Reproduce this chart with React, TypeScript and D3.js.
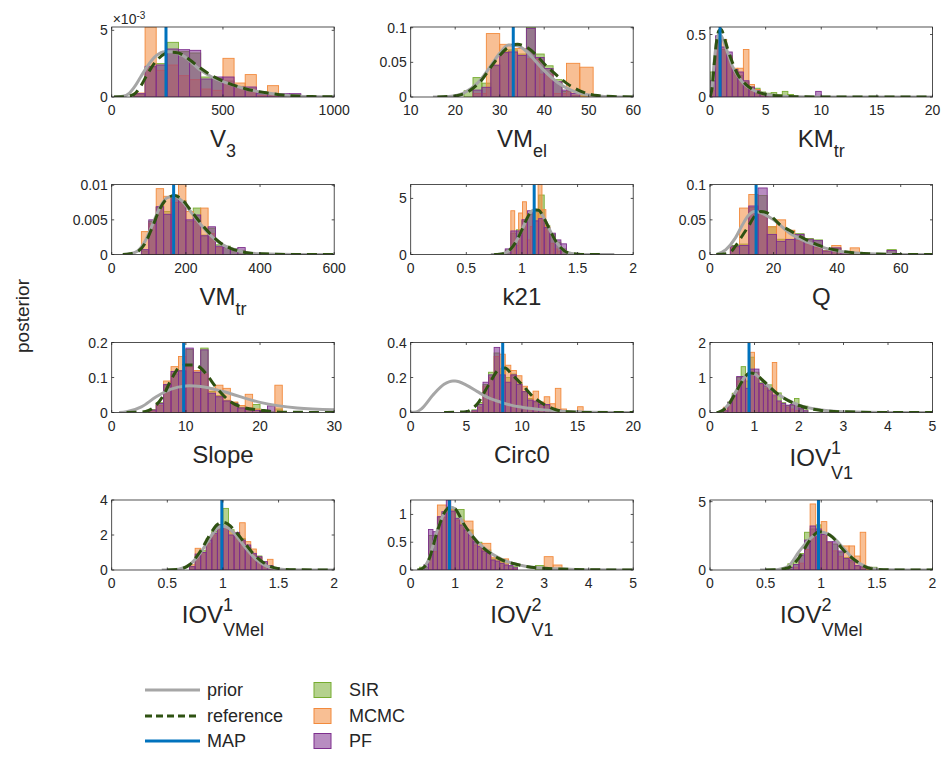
import React from 'react';
import * as d3 from 'd3';

// ---------------- DATA ----------------
const xLabels: [string, string, string][] = [
  ['V', '', '3'], ['VM', '', 'el'], ['KM', '', 'tr'],
  ['VM', '', 'tr'], ['k21', '', ''], ['Q', '', ''],
  ['Slope', '', ''], ['Circ0', '', ''], ['IOV', '1', 'V1'],
  ['IOV', '1', 'VMel'], ['IOV', '2', 'V1'], ['IOV', '2', 'VMel'],
];
const xDomains = [[0, 1000], [10, 60], [0, 20], [0, 600], [0, 2], [0, 70], [0, 30], [0, 20], [0, 5], [0, 2], [0, 5], [0, 2]];
const yMaxes = [0.00525, 0.101, 0.56, 0.0101, 6.24, 0.101, 0.2, 0.4, 2, 4, 1.26, 5.12];
const xTicks = [[0, 500, 1000], [10, 20, 30, 40, 50, 60], [0, 5, 10, 15, 20], [0, 200, 400, 600], [0, 0.5, 1, 1.5, 2], [0, 20, 40, 60], [0, 10, 20, 30], [0, 5, 10, 15, 20], [0, 1, 2, 3, 4, 5], [0, 0.5, 1, 1.5, 2], [0, 1, 2, 3, 4, 5], [0, 0.5, 1, 1.5, 2]];
const yTicks = [[0, 0.005], [0, 0.05, 0.1], [0, 0.5], [0, 0.005, 0.01], [0, 5], [0, 0.05, 0.1], [0, 0.1, 0.2], [0, 0.2, 0.4], [0, 1, 2], [0, 2, 4], [0, 0.5, 1], [0, 5]];
const mapValues = [244, 33.05, 0.9, 167, 1.11, 14.5, 9.7, 8.27, 0.877, 0.99, 0.87, 0.975];

// histogram bins: [first edge, bin width]
const sirBins = [[100, 50], [22, 2], [0, 0.5], [80, 20], [0.85, 0.05], [6.4, 2.9], [5, 1], [5.5, 0.5], [0.3, 0.1], [0.7, 0.05], [0.2, 0.2], [0.7, 0.05]];
const mcmcBins = [[100, 50], [24, 3], [0, 0.5], [80, 20], [0.9, 0.035], [6.4, 2.9], [5, 1], [5.5, 0.5], [0.3, 0.1], [0.7, 0.05], [0.4, 0.2], [0.75, 0.05]];
const pfBins = [[100, 50], [24, 2], [0, 0.5], [80, 20], [0.85, 0.05], [6.4, 2.9], [5, 1], [5.5, 0.5], [0.3, 0.1], [0.7, 0.05], [0.3, 0.1], [0.7, 0.05]];

// SIR densities
const sirV3 = [0.0002, 0.0022, 0.0025, 0.0041, 0.0034, 0.0033, 0.0015, 0.0014, 0.0012, 0.0008, 0.0006, 0.0003, 0.0002, 0.0001, 0.00015];
const sirVMel = [0.009, 0.028, 0.02, 0.045, 0.066, 0.068, 0.062, 0.101, 0.062, 0.045, 0.025, 0.008, 0.002, 0.003];
const sirKMtr = [0.2, 0.47, 0.38, 0.33, 0.2, 0.17, 0.12, 0.08, 0.07, 0.04, 0.03, 0.035, 0.02, 0.045, 0.02];
const sirVMtr = [0.0005, 0.0048, 0.0068, 0.0062, 0.0082, 0.0078, 0.0048, 0.0067, 0.0028, 0.0038, 0.0014, 0.0012, 0.0008, 0.0006];
const sirK21 = [0.4, 1.9, 2.2, 3.0, 3.6, 3.8, 5.3, 2.6, 1.8, 1.1, 0.5];
const sirQ = [0.013, 0.015, 0.068, 0.085, 0.04, 0.022, 0.022, 0.03, 0.023, 0.021, 0.006, 0.009, 0.003, 0.002, 0, 0, 0, 0.007];
const sirSlope = [0.008, 0.028, 0.078, 0.11, 0.12, 0.18, 0.115, 0.184, 0.06, 0.048, 0.035, 0.028, 0.015, 0.012, 0.023, 0.004, 0.002, 0.01];
const sirCirc0 = [0.015, 0.057, 0.16, 0.23, 0.34, 0.25, 0.2, 0.22, 0.17, 0.12, 0.08, 0.06, 0.05, 0.04, 0.02, 0.01];
const sirIOV1V1 = [0.05, 0.3, 0.55, 1.0, 1.31, 0.9, 1.58, 1.15, 0.85, 0.75, 0.79, 0.45, 0.56, 0.28, 0.2, 0.2, 0.4, 0.1, 0.18];
const sirIOV1VMel = [0.2, 0.8, 1.1, 1.8, 2.2, 2.6, 3.52, 2.3, 2.1, 1.8, 1.3, 0.9, 0.8, 0.4, 0.2];
const sirIOV2V1 = [0.05, 0.62, 0.95, 1.12, 1.09, 0.72, 0.5, 0.36, 0.2, 0.15, 0.06, 0, 0, 0.08];
const sirIOV2VMel = [0.45, 0.6, 1.2, 2.76, 3.0, 3.3, 2.7, 2.0, 1.9, 1.3, 0.9, 0.6, 0.3, 0.2, 0.1, 0.2];

// MCMC densities
const mcmcV3 = [0.0003, 0.00525, 0.002, 0.0024, 0.0016, 0.0013, 0.0006, 0.0005, 0.0029, 0.00105, 0.00168, 0.0001, 0.00085];
const mcmcVMel = [0.005, 0.0915, 0.076, 0.07, 0.055, 0.033, 0.005, 0.0486, 0.043];
const mcmcKMtr = [0.05, 0.45, 0.46, 0.32, 0.23, 0.23, 0.38, 0.1, 0.06, 0.02, 0.01];
const mcmcVMtr = [0.0033, 0.0045, 0.0095, 0.0084, 0.0075, 0.0101, 0.0062, 0.0048, 0.0067, 0.003, 0.001];
const mcmcK21 = [3.9, 0.8, 3.7, 4.7, 1.3, 2.5, 4.0, 6.24, 4.0, 2.5, 1.0, 0.5, 0.3];
const mcmcQ = [0.01, 0.067, 0.0866, 0.06, 0.04, 0.05, 0.035, 0.02, 0.015, 0.01, 0.005, 0.013, 0.003, 0.0096];
const mcmcSlope = [0.005, 0.02, 0.09, 0.131, 0.16, 0.13, 0.12, 0.11, 0.07, 0.078, 0.069, 0.03, 0.02, 0.052, 0.01, 0.005, 0, 0.078];
const mcmcCirc0 = [0.005, 0.03, 0.15, 0.2, 0.32, 0.333, 0.27, 0.24, 0.21, 0.15, 0.1, 0.122, 0.06, 0.09, 0.05, 0.138, 0.02, 0.01, 0.005, 0.033];
const mcmcIOV1V1 = [0.15, 0.25, 0.45, 0.9, 0.95, 1.1, 1.72, 1.1, 0.8, 0.7, 0.6, 1.43, 0.3, 0.2, 0.15, 0.1, 0.05];
const mcmcIOV1VMel = [0.3, 1.24, 1.0, 1.5, 2.0, 2.4, 2.5, 2.2, 2.0, 2.7, 1.62, 1.2, 0.7, 0.3, 0.61];
const mcmcIOV2V1 = [0.33, 1.17, 1.1, 0.9, 0.88, 0.45, 0.48, 0.23, 0.2, 0.02, 0, 0, 0, 0.24, 0.09];
const mcmcIOV2VMel = [0.2, 0.5, 1.5, 4.83, 2.5, 3.54, 2.0, 1.4, 1.0, 1.76, 1.76, 1.02, 2.76, 0.2];

// PF densities
const pfV3 = [0.00025, 0.0023, 0.0024, 0.0036, 0.00355, 0.0035, 0.00135, 0.0015, 0.0015, 0.00075, 0.00075, 0.00025, 0.0002, 0.00025, 0.00025];
const pfVMel = [0.01, 0.014, 0.046, 0.064, 0.065, 0.06, 0.099, 0.057, 0.041, 0.022, 0.01, 0.005];
const pfKMtr = [0.13, 0.49, 0.4, 0.36, 0.22, 0.2, 0.13, 0.08, 0.05, 0.03, 0.02, 0.015, 0.01, 0.01, 0.005, 0, 0, 0, 0, 0.045];
const pfVMtr = [0.0007, 0.005, 0.0069, 0.0058, 0.0083, 0.0076, 0.005, 0.0057, 0.0027, 0.004, 0.0012, 0.001, 0.0008, 0.001];
const pfK21 = [0.5, 2.1, 2.1, 3.1, 3.9, 3.0, 3.2, 2.4, 1.9, 1.3, 0.95];
const pfQ = [0.012, 0.013, 0.07, 0.096, 0.029, 0.019, 0.0216, 0.029, 0.022, 0.02, 0.005, 0.0096, 0.002, 0, 0, 0, 0, 0.0058];
const pfSlope = [0.007, 0.026, 0.08, 0.117, 0.119, 0.184, 0.115, 0.179, 0.055, 0.045, 0.033, 0.026, 0.013, 0.01, 0.006, 0.003, 0.019];
const pfCirc0 = [0.01, 0.046, 0.173, 0.215, 0.372, 0.215, 0.173, 0.215, 0.161, 0.119, 0.071, 0.065, 0.046, 0.046, 0.023, 0.015];
const pfIOV1V1 = [0.05, 0.29, 0.5, 1.03, 1.03, 0.69, 1.24, 1.24, 0.83, 0.79, 0.64, 0.5, 0.33, 0.26, 0.21, 0.23, 0.23, 0.11, 0.05];
const pfIOV1VMel = [0.19, 0.91, 1.0, 1.71, 2.1, 2.57, 2.48, 2.0, 2.15, 1.71, 1.43, 0.95, 0.76, 0.48, 0.25];
const pfIOV2V1 = [0.1, 0.73, 0.69, 0.96, 1.05, 1.26, 1.06, 0.93, 0.81, 0.72, 0.63, 0.51, 0.42, 0.34, 0.3, 0.18, 0.16, 0.12, 0.09, 0.08, 0.04, 0, 0, 0, 0, 0, 0, 0, 0.03];
const pfIOV2VMel = [0.2, 0.4, 1.1, 2.19, 3.22, 3.0, 2.6, 2.07, 2.07, 1.39, 0.85, 0.73, 0.32, 0.24];

// prior curves (x, density)
const priorX = [
  [10, 50, 80, 100, 130, 160, 200, 240, 270, 320, 400, 450, 500, 600, 700, 800, 900, 1000],
  [15, 18, 20, 22, 25, 28, 30, 32, 34, 36, 38, 40, 43, 46, 50, 55, 60],
  [0, 0.2, 0.4, 0.6, 0.8, 1.0, 1.3, 1.6, 2, 2.5, 3, 3.5, 4, 5, 6, 7, 8, 10, 20],
  [30, 50, 70, 90, 110, 130, 150, 170, 190, 210, 230, 260, 290, 320, 360, 400, 500, 600],
  [0.72, 0.8, 0.85, 0.9, 0.95, 1.0, 1.05, 1.1, 1.15, 1.2, 1.25, 1.3, 1.35, 1.4, 1.5, 1.6, 1.83],
  [2, 5, 8, 10, 12, 14, 16, 20, 25, 30, 35, 40, 50, 60, 70],
  [1, 2, 4, 6, 8, 10, 10.5, 12, 15, 20, 25, 30],
  [0, 0.5, 1, 2, 3, 3.8, 4, 5, 6, 7, 8, 9, 10, 12, 15, 20],
  [0.15, 0.2, 0.4, 0.6, 0.8, 0.9, 1.0, 1.2, 1.5, 2, 2.5, 3, 4, 5],
  [0.45, 0.6, 0.7, 0.8, 0.9, 0.95, 1.0, 1.05, 1.1, 1.2, 1.3, 1.4, 1.5, 1.6, 2.0],
  [0.15, 0.2, 0.4, 0.6, 0.75, 0.9, 1.0, 1.2, 1.5, 2, 2.5, 3, 4, 5],
  [0.45, 0.6, 0.7, 0.8, 0.9, 1.0, 1.1, 1.2, 1.3, 1.4, 1.5, 1.6, 2.0],
];
const priorY = [
  [0, 0.00005, 0.0003, 0.0007, 0.0015, 0.0023, 0.0031, 0.0034, 0.0034, 0.0031, 0.002, 0.0015, 0.00115, 0.00062, 0.0003, 0.0001, 0.00003, 0.00001],
  [0, 0.0005, 0.002, 0.006, 0.02, 0.045, 0.063, 0.075, 0.074, 0.066, 0.052, 0.038, 0.021, 0.01, 0.003, 0.0005, 0],
  [0, 0.1, 0.3, 0.45, 0.5, 0.49, 0.43, 0.35, 0.25, 0.17, 0.11, 0.075, 0.05, 0.022, 0.01, 0.004, 0.002, 0, 0],
  [0, 0.0001, 0.0005, 0.0019, 0.0043, 0.0068, 0.0082, 0.0084, 0.0077, 0.0064, 0.005, 0.0031, 0.0017, 0.0009, 0.0003, 0.0001, 0, 0],
  [0, 0.03, 0.15, 0.5, 1.2, 2.2, 3.3, 3.95, 3.9, 3.2, 2.2, 1.25, 0.6, 0.22, 0.03, 0, 0],
  [0, 0.007, 0.024, 0.041, 0.056, 0.062, 0.06, 0.05, 0.031, 0.019, 0.011, 0.005, 0.001, 0, 0],
  [0, 0.002, 0.016, 0.045, 0.067, 0.076, 0.0766, 0.074, 0.06, 0.029, 0.013, 0.008],
  [0, 0.003, 0.023, 0.1, 0.161, 0.18, 0.18, 0.157, 0.119, 0.084, 0.061, 0.042, 0.03, 0.015, 0.005, 0],
  [0, 0.01, 0.21, 0.64, 1.04, 1.12, 1.1, 0.88, 0.55, 0.21, 0.07, 0.02, 0, 0],
  [0, 0.05, 0.3, 1.0, 2.0, 2.4, 2.5, 2.4, 2.1, 1.3, 0.6, 0.2, 0.06, 0.01, 0],
  [0, 0.005, 0.18, 0.72, 1.02, 1.13, 1.1, 0.81, 0.51, 0.21, 0.08, 0.03, 0.005, 0],
  [0, 0.02, 0.25, 1.34, 2.3, 2.76, 2.44, 1.59, 0.73, 0.24, 0.06, 0.01, 0],
];

// reference posterior curves (x, density)
const refX = [
  [10, 60, 100, 130, 160, 200, 240, 270, 300, 350, 400, 450, 500, 600, 700, 800, 900, 1000],
  [16, 20, 23, 26, 28, 30, 32, 34, 36, 38, 40, 42, 45, 48, 52, 56, 60],
  [0, 0.2, 0.4, 0.6, 0.8, 1.0, 1.3, 1.6, 2, 2.5, 3, 3.5, 4, 5, 6, 7, 8, 10, 20],
  [30, 50, 70, 90, 110, 130, 150, 170, 190, 210, 230, 260, 290, 320, 360, 400, 500, 600],
  [0.75, 0.8, 0.85, 0.9, 0.95, 1.0, 1.05, 1.1, 1.15, 1.2, 1.25, 1.3, 1.35, 1.4, 1.5, 1.6, 1.7],
  [2, 6, 8, 10, 12, 14, 16, 18, 22, 25, 30, 35, 40, 45, 50, 60, 70],
  [2, 4, 5, 6, 7, 8, 9, 10, 11, 12, 13, 14, 15, 16, 18, 20, 22, 25, 30],
  [3, 5, 5.5, 6, 7, 8, 8.5, 9, 10, 11, 12, 13, 14, 16, 20],
  [0.15, 0.2, 0.4, 0.6, 0.8, 0.9, 1.0, 1.2, 1.5, 2, 2.5, 3, 4, 5],
  [0.5, 0.6, 0.7, 0.8, 0.9, 0.95, 1.0, 1.05, 1.1, 1.2, 1.3, 1.4, 1.5, 1.6, 2.0],
  [0.15, 0.2, 0.4, 0.6, 0.75, 0.9, 1.0, 1.2, 1.5, 2, 2.5, 3, 4, 5],
  [0.5, 0.6, 0.7, 0.8, 0.9, 0.98, 1.1, 1.2, 1.3, 1.45, 1.6, 2.0],
];
const refY = [
  [0, 0.00002, 0.0002, 0.0008, 0.0017, 0.0027, 0.00325, 0.00335, 0.0033, 0.0028, 0.00215, 0.0016, 0.0012, 0.00062, 0.0003, 0.0001, 0.00003, 0.00001],
  [0, 0.0015, 0.008, 0.025, 0.043, 0.06, 0.072, 0.076, 0.072, 0.062, 0.048, 0.036, 0.02, 0.009, 0.002, 0.0005, 0],
  [0, 0.08, 0.28, 0.45, 0.53, 0.54, 0.47, 0.38, 0.28, 0.18, 0.12, 0.08, 0.05, 0.022, 0.01, 0.004, 0.002, 0, 0],
  [0, 0.0001, 0.0004, 0.0016, 0.004, 0.0066, 0.0081, 0.0085, 0.0079, 0.0066, 0.0052, 0.0033, 0.0018, 0.0009, 0.0003, 0.0001, 0, 0],
  [0, 0.03, 0.15, 0.5, 1.2, 2.2, 3.3, 4.0, 3.95, 3.2, 2.2, 1.25, 0.6, 0.22, 0.03, 0, 0],
  [0, 0.002, 0.012, 0.026, 0.04, 0.055, 0.062, 0.06, 0.043, 0.035, 0.022, 0.012, 0.006, 0.0025, 0.001, 0, 0],
  [0, 0.001, 0.006, 0.021, 0.05, 0.093, 0.127, 0.136, 0.136, 0.127, 0.103, 0.074, 0.05, 0.031, 0.013, 0.007, 0.002, 0.0005, 0],
  [0, 0.004, 0.02, 0.05, 0.157, 0.249, 0.255, 0.224, 0.16, 0.09, 0.046, 0.017, 0.005, 0, 0],
  [0, 0.01, 0.19, 0.62, 1.04, 1.13, 1.11, 0.9, 0.55, 0.2, 0.06, 0.02, 0, 0],
  [0, 0.04, 0.3, 1.1, 2.2, 2.6, 2.72, 2.6, 2.3, 1.5, 0.75, 0.28, 0.08, 0.02, 0],
  [0, 0.005, 0.17, 0.7, 1.02, 1.14, 1.1, 0.82, 0.5, 0.2, 0.08, 0.03, 0.005, 0],
  [0, 0.02, 0.15, 0.9, 2.2, 2.8, 2.4, 1.45, 0.73, 0.1, 0.01, 0],
];

const sirValues = [sirV3, sirVMel, sirKMtr, sirVMtr, sirK21, sirQ, sirSlope, sirCirc0, sirIOV1V1, sirIOV1VMel, sirIOV2V1, sirIOV2VMel];
const mcmcValues = [mcmcV3, mcmcVMel, mcmcKMtr, mcmcVMtr, mcmcK21, mcmcQ, mcmcSlope, mcmcCirc0, mcmcIOV1V1, mcmcIOV1VMel, mcmcIOV2V1, mcmcIOV2VMel];
const pfValues = [pfV3, pfVMel, pfKMtr, pfVMtr, pfK21, pfQ, pfSlope, pfCirc0, pfIOV1V1, pfIOV1VMel, pfIOV2V1, pfIOV2VMel];

const legendLines = ['prior', 'reference', 'MAP'];
const legendPatches = ['SIR', 'MCMC', 'PF'];

// ---------------- STYLE / LAYOUT ----------------
const FONT = '"Liberation Sans", Arial, Helvetica, sans-serif';
const TXT = '#262626';
const C_SIR = '#77AC30';
const C_MCMC = '#F28A3C';
const C_PF = '#7E2F8E';
const C_PRIOR = '#A6A6A6';
const C_REF = '#2F5212';
const C_MAP = '#0072BD';
const FILL_OP = 0.55;
const W = 222.5;
const H = 70;
const COL_X = [111.7, 410.7, 710];
const ROW_Y = [27, 184.5, 342.5, 500];
const DASH = '10,6';

function fmt(v: number) {
  return String(+v.toPrecision(6));
}

function XLabel({ x, y, main, sup, sub }: { x: number; y: number; main: string; sup: string; sub: string }) {
  const fs = 24;
  const ss = 18;
  const supW = 0.556 * ss;
  return (
    <text x={x} y={y} textAnchor="middle" fontSize={fs} fill={TXT} fontFamily={FONT}>
      {main}
      {sup ? <tspan fontSize={ss} dy={-12}>{sup}</tspan> : null}
      {sub ? (
        <tspan fontSize={ss} dx={sup ? -supW : 0} dy={sup ? 25 : 10}>{sub}</tspan>
      ) : null}
    </text>
  );
}

function Panel({ i }: { i: number }) {
  const col = i % 3;
  const row = Math.floor(i / 3);
  const x0 = COL_X[col];
  const y0 = ROW_Y[row];
  const xs = d3.scaleLinear().domain(xDomains[i]).range([x0, x0 + W]);
  const ys = d3.scaleLinear().domain([0, yMaxes[i]]).range([y0 + H, y0]);
  const line = d3
    .line<[number, number]>()
    .x((d) => xs(d[0]))
    .y((d) => ys(d[1]))
    .curve(d3.curveMonotoneX);
  const priorPts = priorX[i].map((x, k) => [x, priorY[i][k]] as [number, number]);
  const refPts = refX[i].map((x, k) => [x, refY[i][k]] as [number, number]);
  const clipId = `clip${i}`;
  const hist = (bins: number[], vals: number[], color: string, key: string) =>
    vals.map((v, k) => {
      if (v <= 0) return null;
      const a = bins[0] + k * bins[1];
      const b = a + bins[1];
      const top = Math.max(ys(v), y0);
      return (
        <rect
          key={key + k}
          x={xs(a)}
          y={top}
          width={xs(b) - xs(a)}
          height={ys(0) - top}
          fill={color}
          fillOpacity={FILL_OP}
          stroke={color}
          strokeWidth={0.9}
        />
      );
    });
  const isExp = i === 0;
  const tl = 2.5;
  const [main, sup, sub] = xLabels[i];
  return (
    <g>
      <defs>
        <clipPath id={clipId}>
          <rect x={x0} y={y0} width={W} height={H} />
        </clipPath>
      </defs>
      <rect x={x0} y={y0} width={W} height={H} fill="#fff" />
      <g clipPath={`url(#${clipId})`}>
        {hist(sirBins[i], sirValues[i], C_SIR, 's')}
        {hist(mcmcBins[i], mcmcValues[i], C_MCMC, 'm')}
        {hist(pfBins[i], pfValues[i], C_PF, 'p')}
        <path d={line(priorPts) || ''} fill="none" stroke={C_PRIOR} strokeWidth={3} />
        <path d={line(refPts) || ''} fill="none" stroke={C_REF} strokeWidth={3} strokeDasharray={DASH} />
        <line x1={xs(mapValues[i])} x2={xs(mapValues[i])} y1={ys(0)} y2={ys(yMaxes[i])} stroke={C_MAP} strokeWidth={3} />
      </g>
      <rect x={x0} y={y0} width={W} height={H} fill="none" stroke={TXT} strokeWidth={0.8} />
      {xTicks[i].map((t) => (
        <g key={'xt' + t}>
          <line x1={xs(t)} x2={xs(t)} y1={y0 + H} y2={y0 + H - tl} stroke={TXT} strokeWidth={0.8} />
          <line x1={xs(t)} x2={xs(t)} y1={y0} y2={y0 + tl} stroke={TXT} strokeWidth={0.8} />
          <text x={xs(t)} y={y0 + H + 18} textAnchor="middle" fontSize={14} fill={TXT} fontFamily={FONT}>
            {fmt(t)}
          </text>
        </g>
      ))}
      {yTicks[i].map((t) => (
        <g key={'yt' + t}>
          <line x1={x0} x2={x0 + tl} y1={ys(t)} y2={ys(t)} stroke={TXT} strokeWidth={0.8} />
          <line x1={x0 + W} x2={x0 + W - tl} y1={ys(t)} y2={ys(t)} stroke={TXT} strokeWidth={0.8} />
          <text x={x0 - 4} y={ys(t)} dy="0.36em" textAnchor="end" fontSize={14} fill={TXT} fontFamily={FONT}>
            {isExp ? fmt(t * 1000) : fmt(t)}
          </text>
        </g>
      ))}
      {isExp ? (
        <text x={x0 + 1} y={y0 - 3} fontSize={14} fill={TXT} fontFamily={FONT}>
          ×10<tspan fontSize={10} dy={-5}>-3</tspan>
        </text>
      ) : null}
      <XLabel x={x0 + W / 2} y={y0 + H + (sup ? 53 : 50)} main={main} sup={sup} sub={sub} />
    </g>
  );
}

function Legend() {
  const rowsY = [690, 716, 741];
  const lx0 = 145;
  const lx1 = 200;
  const styles = [
    { stroke: C_PRIOR, dash: undefined as string | undefined },
    { stroke: C_REF, dash: '7,4' },
    { stroke: C_MAP, dash: undefined },
  ];
  const pcolors = [C_SIR, C_MCMC, C_PF];
  return (
    <g fontFamily={FONT} fontSize={18} fill={TXT}>
      {legendLines.map((name, k) => (
        <g key={name}>
          <line x1={lx0} x2={lx1} y1={rowsY[k]} y2={rowsY[k]} stroke={styles[k].stroke} strokeWidth={3} strokeDasharray={styles[k].dash} />
          <text x={207} y={rowsY[k]} dy="0.36em">{name}</text>
        </g>
      ))}
      {legendPatches.map((name, k) => (
        <g key={name}>
          <rect x={314} y={rowsY[k] - 7.5} width={17} height={15} fill={pcolors[k]} fillOpacity={FILL_OP} stroke={pcolors[k]} strokeWidth={1} />
          <text x={349} y={rowsY[k]} dy="0.36em">{name}</text>
        </g>
      ))}
    </g>
  );
}

export default function App() {
  return (
    <svg
      width={943}
      height={767}
      style={{ position: 'absolute', left: 0, top: 0, background: '#fff' }}
      xmlns="http://www.w3.org/2000/svg"
    >
      <rect x={0} y={0} width={943} height={767} fill="#fff" />
      {xLabels.map((_, i) => (
        <Panel key={i} i={i} />
      ))}
      <text
        transform="translate(22,316) rotate(-90)"
        textAnchor="middle"
        dy="0.36em"
        fontSize={19}
        fill={TXT}
        fontFamily={FONT}
      >
        posterior
      </text>
      <Legend />
    </svg>
  );
}
